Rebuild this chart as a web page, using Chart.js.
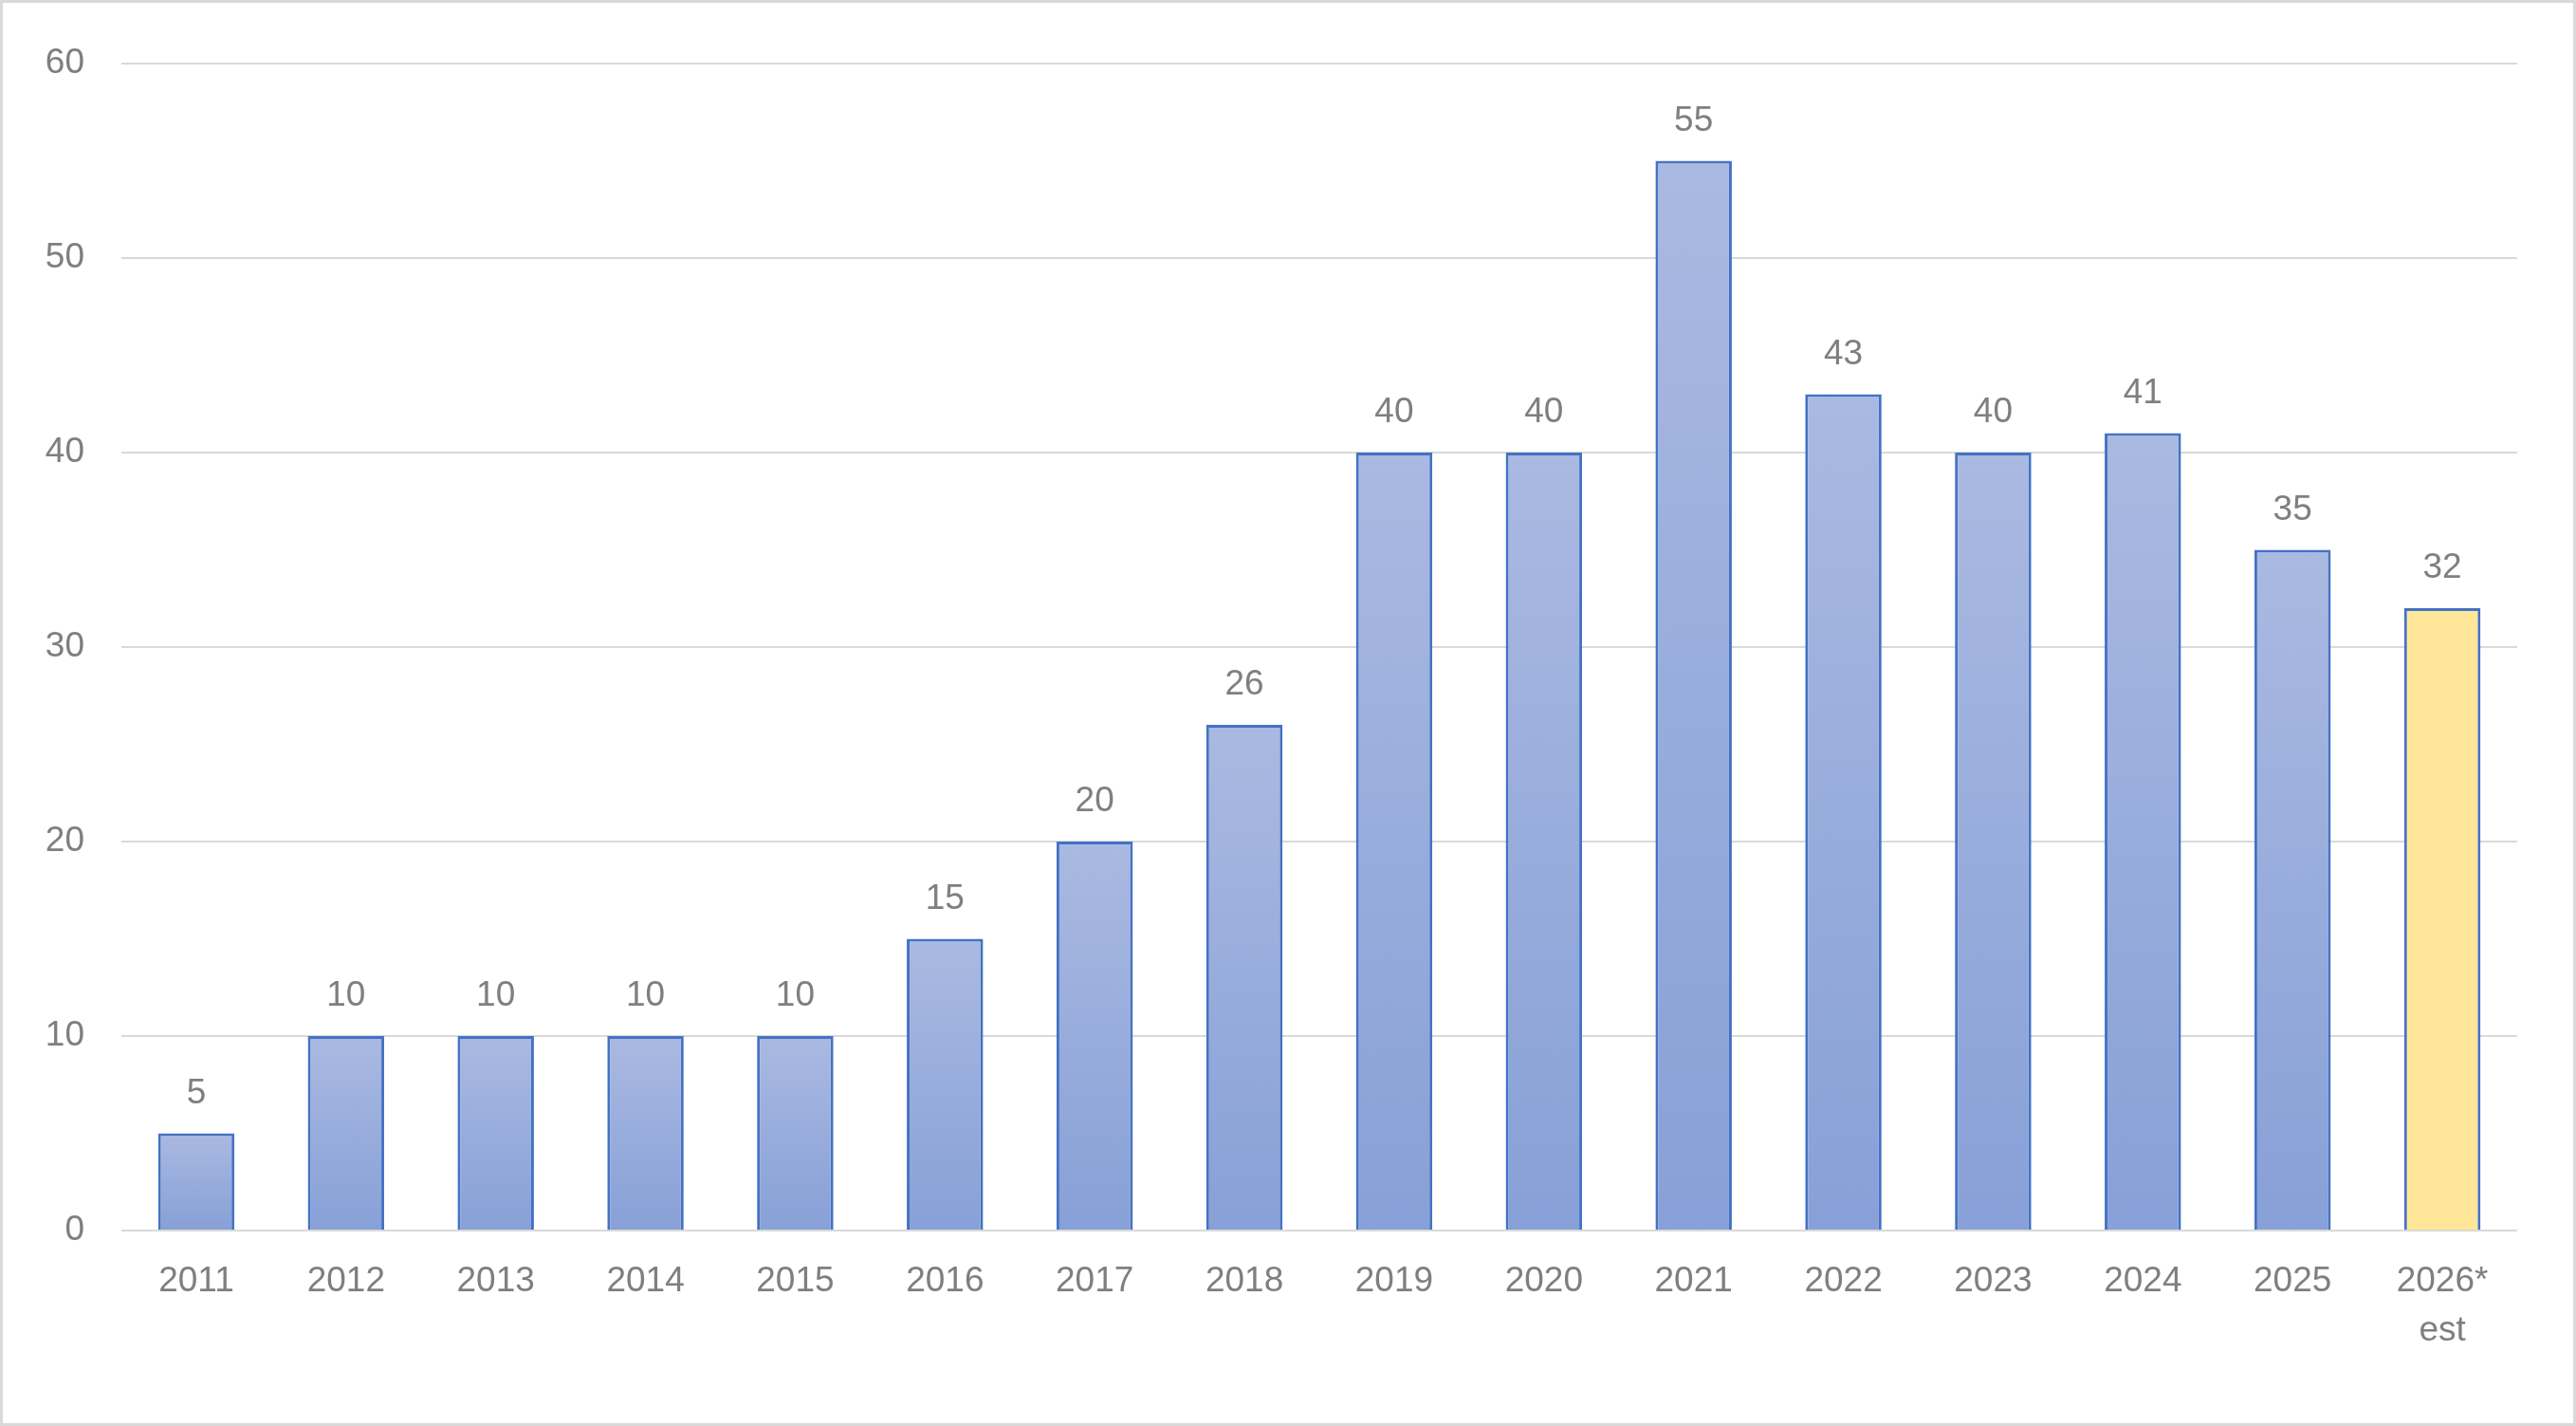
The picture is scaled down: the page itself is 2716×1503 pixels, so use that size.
<!DOCTYPE html>
<html>
<head>
<meta charset="utf-8">
<script src="https://cdn.jsdelivr.net/npm/chart.js@4.4.1/dist/chart.umd.min.js"></script>
<style>
  html, body { margin: 0; padding: 0; background: #ffffff; }
  #wrap {
    width: 2716px;
    height: 1503px;
    box-sizing: border-box;
    border: 3px solid #d9d9d9;
    background: #ffffff;
  }
  #barChart { display: block; }
</style>
</head>
<body>
<div id="wrap"><canvas id="barChart" width="2710" height="1497"></canvas></div>
<script>
const years = ['2011', '2012', '2013', '2014', '2015', '2016', '2017', '2018',
  '2019', '2020', '2021', '2022', '2023', '2024', '2025', ['2026*', 'est']];
const counts = [5, 10, 10, 10, 10, 15, 20, 26, 40, 40, 55, 43, 40, 41, 35, 32];
const estimated = [false, false, false, false, false, false, false, false,
  false, false, false, false, false, false, false, true];
const yTicks = [0, 10, 20, 30, 40, 50, 60];

const textGrey = '#7f7f7f';
const fontFamily = '"Liberation Sans", Arial, sans-serif';

// value labels above each bar
const valueLabels = {
  id: 'valueLabels',
  afterDatasetsDraw(chart) {
    const ctx = chart.ctx;
    const meta = chart.getDatasetMeta(0);
    ctx.save();
    ctx.fillStyle = textGrey;
    ctx.font = '37px ' + fontFamily;
    ctx.textAlign = 'center';
    ctx.textBaseline = 'alphabetic';
    meta.data.forEach(function (bar, i) {
      ctx.fillText(String(counts[i]), bar.x, bar.y - 32);
    });
    ctx.restore();
  }
};

function barFill(context) {
  const chart = context.chart;
  const i = context.dataIndex;
  if (estimated[i]) return '#ffe699';
  const yScale = chart.scales.y;
  if (!yScale || !chart.chartArea) return '#98acdc';
  const top = yScale.getPixelForValue(counts[i]);
  const bottom = yScale.getPixelForValue(0);
  const g = chart.ctx.createLinearGradient(0, top, 0, bottom);
  g.addColorStop(0, '#aab9e1');
  g.addColorStop(1, '#87a0d7');
  return g;
}

const ctx = document.getElementById('barChart').getContext('2d');

new Chart(ctx, {
  type: 'bar',
  data: {
    labels: years,
    datasets: [{
      data: counts,
      backgroundColor: barFill,
      borderColor: '#4472c4',
      borderWidth: 3,
      borderSkipped: 'start',
      barPercentage: 0.51,
      categoryPercentage: 1.0
    }]
  },
  options: {
    responsive: false,
    animation: false,
    layout: {
      padding: { left: 0, right: 59, top: 64, bottom: 0 }
    },
    plugins: {
      legend: { display: false },
      tooltip: { enabled: false },
      title: { display: false }
    },
    scales: {
      x: {
        grid: { display: false, drawTicks: false },
        border: { display: false },
        ticks: {
          color: textGrey,
          font: { family: fontFamily, size: 37, lineHeight: 1.4 },
          padding: 28,
          maxRotation: 0,
          autoSkip: false
        },
        afterFit: function (scale) { scale.height = 203; }
      },
      y: {
        min: 0,
        max: 60,
        afterBuildTicks: function (scale) {
          scale.ticks = yTicks.map(function (v) { return { value: v }; });
        },
        grid: { color: '#d9d9d9', lineWidth: 2, drawTicks: false },
        border: { display: false },
        ticks: {
          color: textGrey,
          font: { family: fontFamily, size: 37 },
          padding: 39
        },
        afterFit: function (scale) { scale.width = 125; }
      }
    }
  },
  plugins: [valueLabels]
});
</script>
</body>
</html>
